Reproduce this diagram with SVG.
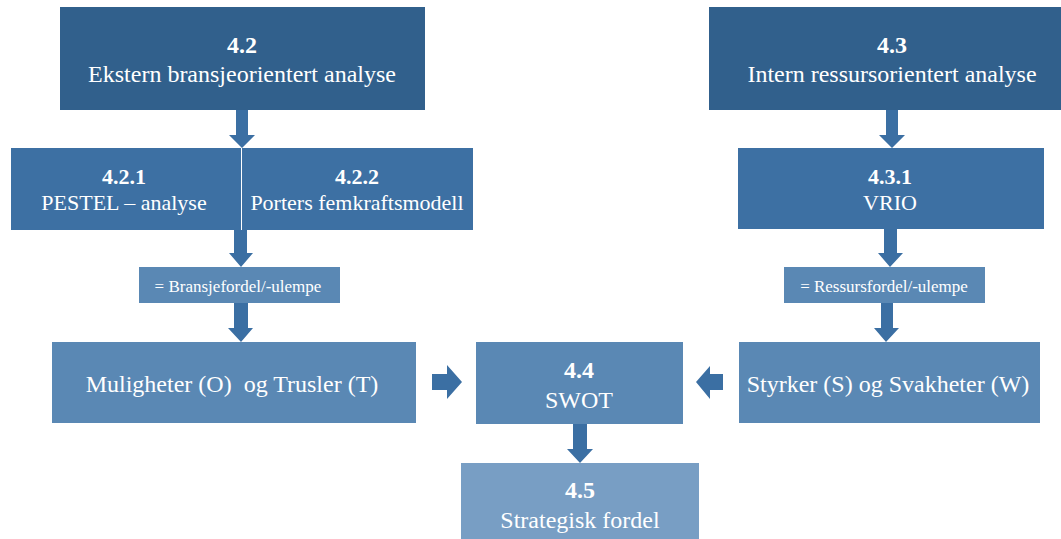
<svg xmlns="http://www.w3.org/2000/svg" width="1061" height="539" viewBox="0 0 1061 539">
  <style>
    .lvl1 { fill: #31608c; }
    .lvl2 { fill: #3d70a3; }
    .lvl3 { fill: #5a88b4; }
    .lvl4 { fill: #789ec4; }
    .arrow { fill: #3b6fa3; }
    text { font-family: "Liberation Serif", "Times New Roman", serif; fill: #ffffff; text-anchor: middle; }
    .num { font-weight: bold; }
    .big { font-size: 24px; }
    .mid { font-size: 22px; }
    .small { font-size: 17px; }
  </style>
  <rect width="1061" height="539" fill="#ffffff"/>

  <!-- connectors: block arrows -->
  <g id="connectors">
    <!-- 4.2 -> 4.2.1 / 4.2.2 -->
    <polygon class="arrow" points="236,110 248,110 248,135 255,135 242,148 229,135 236,135"/>
    <!-- 4.2.1/4.2.2 -> Bransjefordel -->
    <polygon class="arrow" points="234,230 247,230 247,253 253,253 241,267 229,253 234,253"/>
    <!-- Bransjefordel -> Muligheter og Trusler -->
    <polygon class="arrow" points="234,303 248,303 248,328 253,328 241,342 228,328 234,328"/>
    <!-- 4.3 -> 4.3.1 -->
    <polygon class="arrow" points="886,110 898,110 898,135 905,135 892,148 879,135 886,135"/>
    <!-- 4.3.1 -> Ressursfordel -->
    <polygon class="arrow" points="884,229 897,229 897,253 903,253 890,267 878,253 884,253"/>
    <!-- Ressursfordel -> Styrker og Svakheter -->
    <polygon class="arrow" points="881,303 893,303 893,328 899,328 886,342 874,328 881,328"/>
    <!-- Muligheter og Trusler -> SWOT -->
    <polygon class="arrow" points="432,374 447,374 447,365 462,382 447,399 447,390 432,390"/>
    <!-- Styrker og Svakheter -> SWOT -->
    <polygon class="arrow" points="723,374 710,374 710,366 696,382 710,399 710,390 723,390"/>
    <!-- SWOT -> 4.5 -->
    <polygon class="arrow" points="573,424 587,424 587,449 593,449 580,463 567,449 573,449"/>
  </g>

  <g id="n42">
    <rect class="lvl1" x="60" y="7" width="365" height="103"/>
    <text class="big num" x="242" y="53">4.2</text>
    <text class="big" x="242" y="82">Ekstern bransjeorientert analyse</text>
  </g>

  <g id="n43">
    <rect class="lvl1" x="709" y="7" width="352" height="103"/>
    <text class="big num" x="892" y="53">4.3</text>
    <text class="big" x="892" y="82">Intern ressursorientert analyse</text>
  </g>

  <g id="n421">
    <rect class="lvl2" x="11" y="148" width="230" height="82"/>
    <text class="mid num" x="124" y="184">4.2.1</text>
    <text class="mid" x="124" y="210">PESTEL – analyse</text>
  </g>

  <g id="n422">
    <rect class="lvl2" x="242" y="148" width="231" height="82"/>
    <text class="mid num" x="357" y="184">4.2.2</text>
    <text class="mid" x="357" y="210">Porters femkraftsmodell</text>
  </g>

  <g id="n431">
    <rect class="lvl2" x="738" y="148" width="306" height="81"/>
    <text class="mid num" x="890" y="184">4.3.1</text>
    <text class="mid" x="890" y="210">VRIO</text>
  </g>

  <g id="bransje">
    <rect class="lvl3" x="139" y="267" width="201" height="36"/>
    <text class="small" x="238" y="292">= Bransjefordel/-ulempe</text>
  </g>

  <g id="ressurs">
    <rect class="lvl3" x="784" y="267" width="201" height="36"/>
    <text class="small" x="884" y="292">= Ressursfordel/-ulempe</text>
  </g>

  <g id="ot">
    <rect class="lvl3" x="52" y="342" width="364" height="81"/>
    <text class="big" x="232" y="392" xml:space="preserve">Muligheter (O)  og Trusler (T)</text>
  </g>

  <g id="n44">
    <rect class="lvl3" x="476" y="342" width="207" height="82"/>
    <text class="big num" x="579" y="378">4.4</text>
    <text class="big" x="579" y="408">SWOT</text>
  </g>

  <g id="sw">
    <rect class="lvl3" x="739" y="342" width="301" height="81"/>
    <text class="big" x="888" y="392">Styrker (S) og Svakheter (W)</text>
  </g>

  <g id="n45">
    <rect class="lvl4" x="461" y="463" width="238" height="76"/>
    <text class="big num" x="580" y="498">4.5</text>
    <text class="big" x="580" y="528">Strategisk fordel</text>
  </g>
</svg>
